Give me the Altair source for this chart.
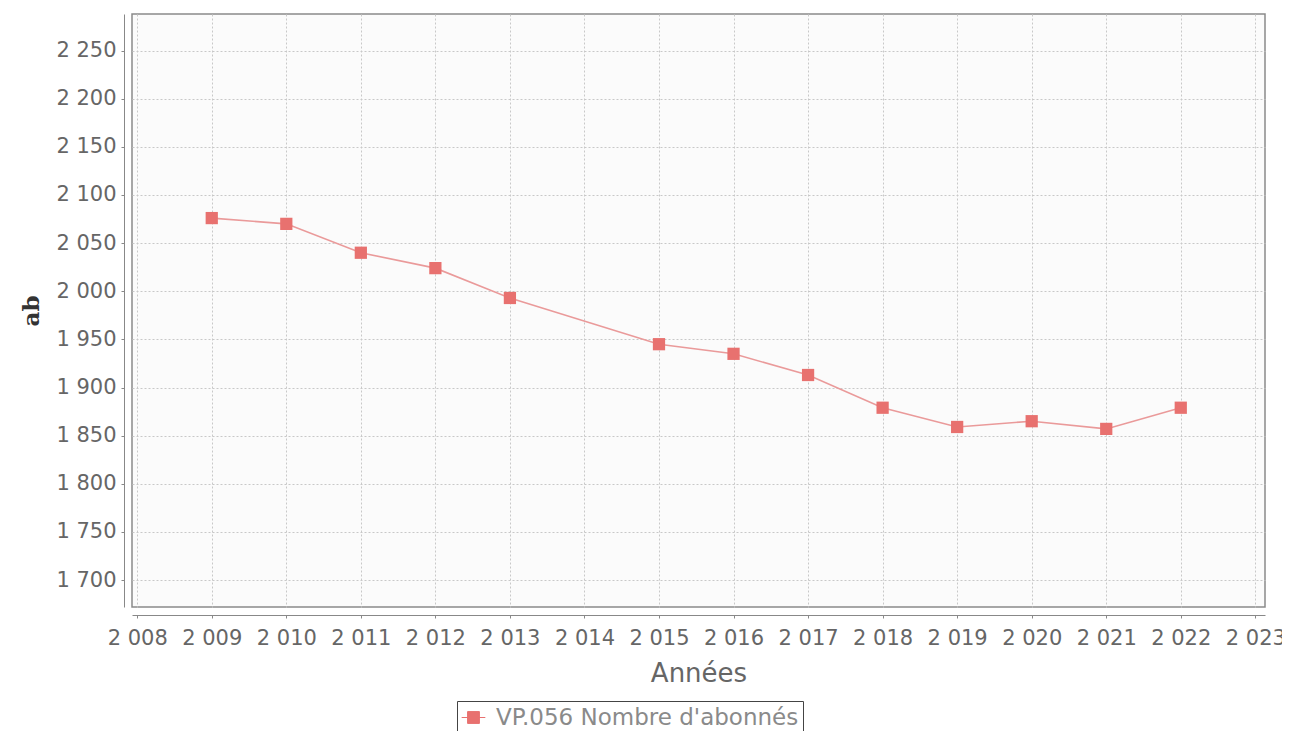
import altair as alt
import pandas as pd

years = [2009, 2010, 2011, 2012, 2013, 2015, 2016, 2017, 2018, 2019, 2020, 2021, 2022]
values = [2076, 2070, 2040, 2024, 1993, 1945, 1935, 1913, 1879, 1859, 1865, 1857, 1879]
series_name = "VP.056 Nombre d'abonnés"
x_ticks = list(range(2008, 2024))
y_ticks = list(range(1700, 2251, 50))

df = pd.DataFrame({"Année": years, "Valeur": values, "Série": [series_name] * len(years)})

lbl = "substring(format(datum.value,'d'),0,1) + ' ' + substring(format(datum.value,'d'),1)"

x = alt.X("Année:Q",
          scale=alt.Scale(domain=[2007.93, 2023.13], nice=False, zero=False),
          axis=alt.Axis(values=x_ticks, labelExpr=lbl, title="Années", offset=8,
                        labelFont="DejaVu Sans", labelFontSize=21, labelColor="#666",
                        titleFont="DejaVu Sans", titleFontSize=26, titleColor="#666",
                        titleFontWeight="normal", titlePadding=12,
                        domainColor="#888", tickColor="#888", tickSize=3,
                        gridColor="#c8c8c8", gridDash=[2, 2], labelFlush=False,
                        labelPadding=9))
y = alt.Y("Valeur:Q",
          scale=alt.Scale(domain=[1672, 2288], nice=False, zero=False),
          axis=alt.Axis(values=y_ticks, labelExpr=lbl, title="ab", offset=8,
                        labelFont="DejaVu Sans", labelFontSize=21, labelColor="#666",
                        titleFont="DejaVu Serif", titleFontSize=23, titleColor="#333",
                        titleFontWeight="bold", titlePadding=12,
                        domainColor="#888", tickColor="#888", tickSize=3,
                        gridColor="#c8c8c8", gridDash=[2, 2], labelPadding=5))
color = alt.Color("Série:N",
                  scale=alt.Scale(domain=[series_name], range=["#e8716f"]),
                  legend=alt.Legend(title=None, orient="none", legendX=325, legendY=687,
                                    symbolType="M-1,0H1M-0.5,-0.5H0.5V0.5H-0.5Z",
                                    symbolSize=560, symbolStrokeColor="#e8716f",
                                    symbolStrokeWidth=1, symbolFillColor="#e8716f",
                                    labelFont="DejaVu Sans", labelFontSize=23,
                                    labelColor="#8a8a8a", strokeColor="#444",
                                    labelLimit=0, padding=4, labelOffset=10))

line = alt.Chart(df).mark_line(color="#ea9a9a", strokeWidth=1.6).encode(x=x, y=y)
pts = alt.Chart(df).mark_point(shape="square", filled=True, size=150, opacity=1).encode(
    x=x, y=y, color=color)

chart = (line + pts).properties(
    width=1133, height=593,
    autosize=alt.AutoSizeParams(type="none"),
    padding={"left": 124, "top": 6, "right": 17, "bottom": 124},
    background="white",
).configure_view(stroke="#8a8a8a", strokeWidth=1.5, fill="#fbfbfb")

chart.save("out.html", embed_options={"renderer": "svg", "actions": False})
